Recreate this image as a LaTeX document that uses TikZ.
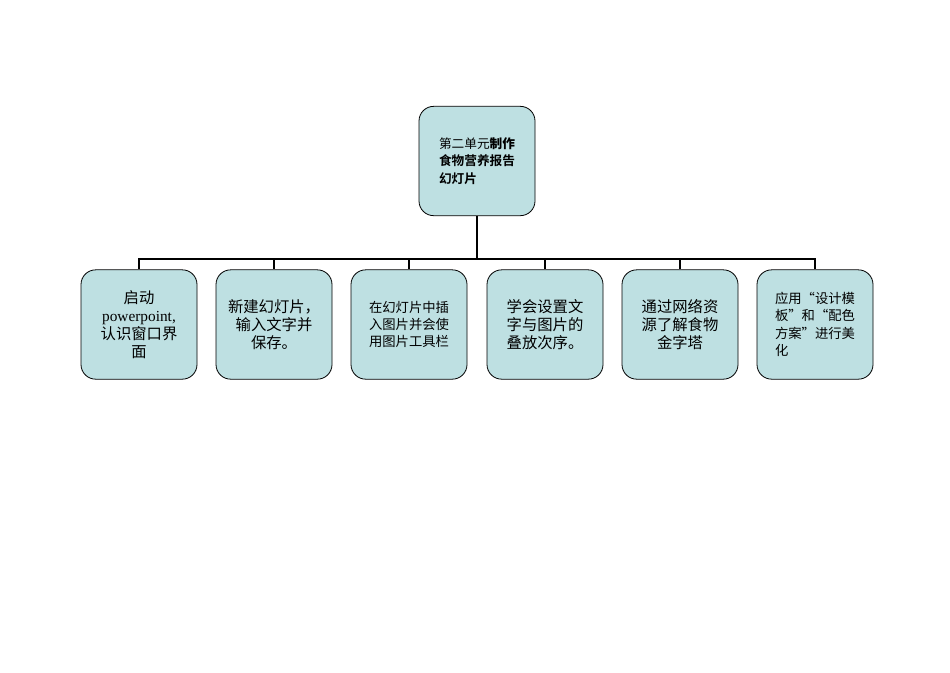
\documentclass[tikz,border=0pt]{standalone}
\usepackage{fontspec}
\setmainfont{Liberation Serif}
\newfontfamily\cjk{Noto Sans CJK SC}
\newfontfamily\cjkb{Noto Sans CJK SC Bold}
\definecolor{boxfill}{HTML}{BEE0E2}
\begin{document}
\begin{tikzpicture}[x=0.75pt,y=-0.75pt,
  box/.style={draw=black,fill=boxfill,rounded corners=11pt,minimum width=87pt,minimum height=82pt,inner sep=3pt,align=center,font=\fontsize{11.5}{13.5}\selectfont\cjk,line width=0.6pt},
  conn/.style={line width=1.8pt}]
\useasboundingbox (0,0) rectangle (950,672);
\node[box,align=left,font=\fontsize{9.5}{13}\selectfont\cjk] (root) at (477,161) {第二单元{\bfseries\cjkb 制作}\\{\cjkb 食物营养报告}\\{\cjkb 幻灯片}};
\coordinate (bus) at (477,259);
\node[box] (c1) at (139,324.5) {启动\\{\rmfamily powerpoint,}\\认识窗口界\\面};
\node[box] (c2) at (274,324.5) {新建幻灯片，\\输入文字并\\保存。};
\node[box,font=\fontsize{10}{13}\selectfont\cjk] (c3) at (409,324.5) {在幻灯片中插\\入图片并会使\\用图片工具栏};
\node[box] (c4) at (545,324.5) {学会设置文\\字与图片的\\叠放次序。};
\node[box] (c5) at (680,324.5) {通过网络资\\源了解食物\\金字塔};
\node[box,align=left,font=\fontsize{10}{13}\selectfont\cjk] (c6) at (815,324.5) {应用“设计模\\板”和“配色\\方案”进行美\\化};
\draw[conn] (root.south) -- (bus);
\foreach \c in {c1,c2,c3,c4,c5,c6} \draw[line width=1.3pt] (bus) -| (\c.north);
\draw[line width=1.8pt] (c1.north |- bus) -- (c6.north |- bus);
\end{tikzpicture}
\end{document}
